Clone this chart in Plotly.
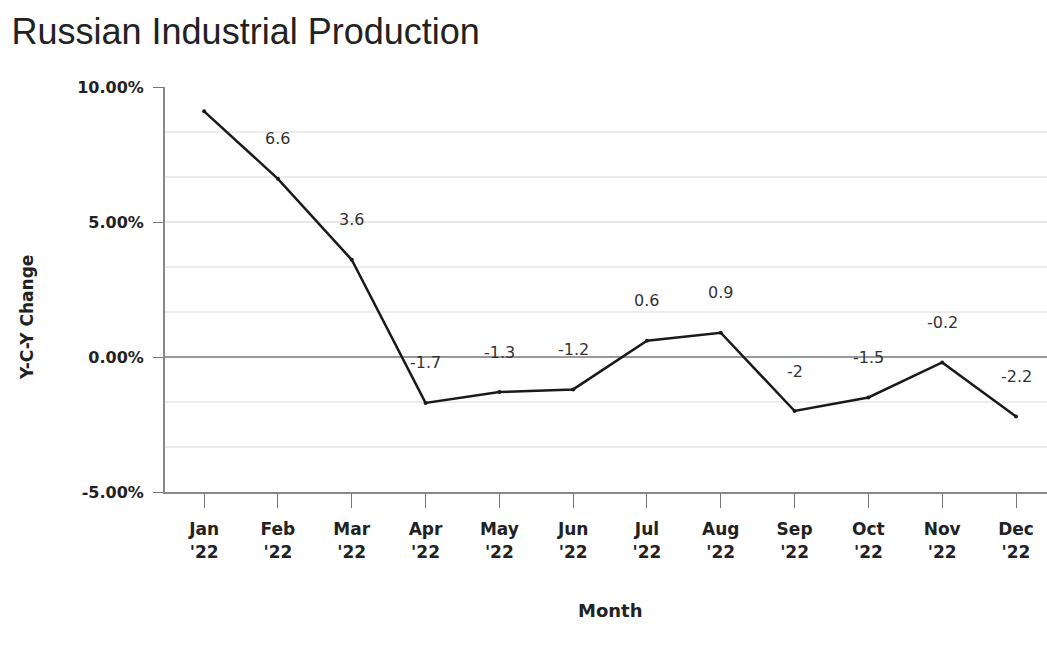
import plotly.graph_objects as go

months = ["Jan<br>'22", "Feb<br>'22", "Mar<br>'22", "Apr<br>'22", "May<br>'22", "Jun<br>'22",
          "Jul<br>'22", "Aug<br>'22", "Sep<br>'22", "Oct<br>'22", "Nov<br>'22", "Dec<br>'22"]
values = [9.1, 6.6, 3.6, -1.7, -1.3, -1.2, 0.6, 0.9, -2.0, -1.5, -0.2, -2.2]
labels = ["", "6.6", "3.6", "-1.7", "-1.3", "-1.2", "0.6", "0.9", "-2", "-1.5", "-0.2", "-2.2"]
y_ticks = [-5, 0, 5, 10]
y_tick_text = ["-5.00%", "0.00%", "5.00%", "10.00%"]

x = list(range(len(months)))

fig = go.Figure()
fig.add_trace(go.Scatter(
    x=x, y=values, mode="lines+markers",
    line=dict(color="#1a1a1a", width=2.5),
    marker=dict(size=4, color="#1a1a1a"),
    showlegend=False, cliponaxis=False,
))
for xi, yi, lab in zip(x, values, labels):
    if lab:
        fig.add_annotation(x=xi, y=yi, text=lab, showarrow=False, yshift=40,
                           font=dict(family="DejaVu Sans", size=16, color="#333"))

fig.add_annotation(xref="paper", yref="paper", x=(27 - 165) / 882, y=(492 - 318) / 405,
                   text="<b>Y-C-Y Change</b>", textangle=-90, showarrow=False,
                   xanchor="center", yanchor="middle",
                   font=dict(family="DejaVu Sans", size=17, color="#222"))
fig.add_annotation(xref="paper", yref="paper", x=(610 - 165) / 882, y=-(610 - 492) / 405,
                   text="<b>Month</b>", showarrow=False,
                   xanchor="center", yanchor="middle",
                   font=dict(family="DejaVu Sans", size=18, color="#222"))

fig.update_layout(
    width=1047, height=660,
    margin=dict(l=165, r=0, t=87, b=168),
    paper_bgcolor="white", plot_bgcolor="white",
    title=dict(text="Russian Industrial Production", x=0.011, xanchor="left", y=0.953, yanchor="middle",
               font=dict(family="Liberation Sans, Arial", size=36, color="#222")),
    font=dict(family="DejaVu Sans", color="#333"),
)
fig.update_xaxes(
    range=[-0.53, 11.42], tickmode="array", tickvals=x, ticktext=months,
    ticks="outside", ticklen=14, tickcolor="#777", tickwidth=1, ticklabelstandoff=7,
    showline=True, linecolor="#888", linewidth=2, showgrid=False, zeroline=False,
    tickfont=dict(family="DejaVu Sans", size=17, color="#222", weight="bold"),
)
fig.update_yaxes(
    range=[-5, 10], tickmode="array", tickvals=y_ticks, ticktext=y_tick_text,
    ticks="outside", ticklen=10, tickcolor="#777", ticklabelstandoff=6,
    showline=True, linecolor="#888", linewidth=2,
    showgrid=True, gridcolor="#e6e6e6", gridwidth=2,
    zeroline=True, zerolinecolor="#999", zerolinewidth=2,
    minor=dict(dtick=5/3, tick0=-5, showgrid=True, gridcolor="#ececec", gridwidth=2),
    tickfont=dict(family="DejaVu Sans", size=16, color="#222", weight="bold"),
)

fig.write_html("out.html")
